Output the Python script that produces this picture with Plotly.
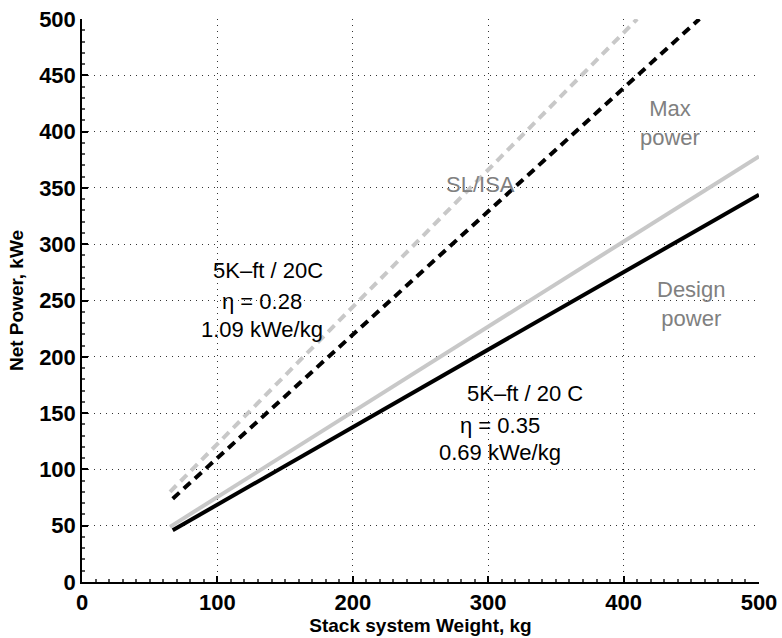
import plotly.graph_objects as go

# Data
design_black_x = [67, 500]
design_black_y = [46, 344]
design_gray_x = [65, 500]
design_gray_y = [49, 378]
max_black_x = [67, 456]
max_black_y = [74, 500]
max_gray_x = [65, 410]
max_gray_y = [80, 500]

x_ticks = [0, 100, 200, 300, 400, 500]
y_ticks = [0, 50, 100, 150, 200, 250, 300, 350, 400, 450, 500]

FONT = "Liberation Sans, Arial, Helvetica, sans-serif"
LIGHT = "#c8c8c8"
TXTGRAY = "#808080"

fig = go.Figure()
fig.add_trace(go.Scatter(x=max_gray_x, y=max_gray_y, mode="lines",
                         line=dict(color=LIGHT, width=4, dash="9px,6px"), showlegend=False))
fig.add_trace(go.Scatter(x=max_black_x, y=max_black_y, mode="lines",
                         line=dict(color="black", width=4, dash="9px,6px"), showlegend=False))
fig.add_trace(go.Scatter(x=design_gray_x, y=design_gray_y, mode="lines",
                         line=dict(color=LIGHT, width=4), showlegend=False))
fig.add_trace(go.Scatter(x=design_black_x, y=design_black_y, mode="lines",
                         line=dict(color="black", width=4), showlegend=False))

annots = [
    (434, 408, "Max<br>power", TXTGRAY),
    (294, 353, "SL/ISA", TXTGRAY),
    (450, 247, "Design<br>power", TXTGRAY),
    (137, 277, "5K\u2013ft / 20C", "black"),
    (133, 249, "\u03b7 = 0.28", "black"),
    (133, 224, "1.09 kWe/kg", "black"),
    (327, 167, "5K\u2013ft / 20 C", "black"),
    (309, 139, "\u03b7 = 0.35", "black"),
    (309, 115, "0.69 kWe/kg", "black"),
]
for x, y, t, c in annots:
    fig.add_annotation(x=x, y=y, text=t, showarrow=False,
                       font=dict(family=FONT, size=22, color=c),
                       xanchor="center", yanchor="middle")

axis_common = dict(
    showgrid=True, gridcolor="#333333", gridwidth=1, griddash="1px,5px",
    showline=True, linecolor="black", linewidth=1.5,
    ticks="inside", ticklen=6, tickcolor="black", tickwidth=1.5,
    tickfont=dict(family=FONT, size=22, color="black", weight="bold"),
    zeroline=False, automargin=False,
    minor=dict(ticks="inside", ticklen=3, dtick=10, tickcolor="#555555", showgrid=False),
)

fig.update_xaxes(range=[0, 500], tickvals=x_ticks,
                 title=dict(text="Stack system Weight, kg",
                            font=dict(family=FONT, size=19, color="black", weight="bold"),
                            standoff=0),
                 **axis_common)
fig.update_yaxes(range=[0, 500], tickvals=y_ticks,
                 title=dict(text="Net Power, kWe",
                            font=dict(family=FONT, size=19, color="black", weight="bold"),
                            standoff=10),
                 **axis_common)

fig.update_layout(
    width=782, height=638,
    margin=dict(l=82, r=23, t=19, b=56),
    plot_bgcolor="white", paper_bgcolor="white",
    font=dict(family=FONT),
)

fig.write_html("out.html", config={"displayModeBar": False},
               post_script="document.body.style.margin='0';document.body.style.overflow='hidden';")
